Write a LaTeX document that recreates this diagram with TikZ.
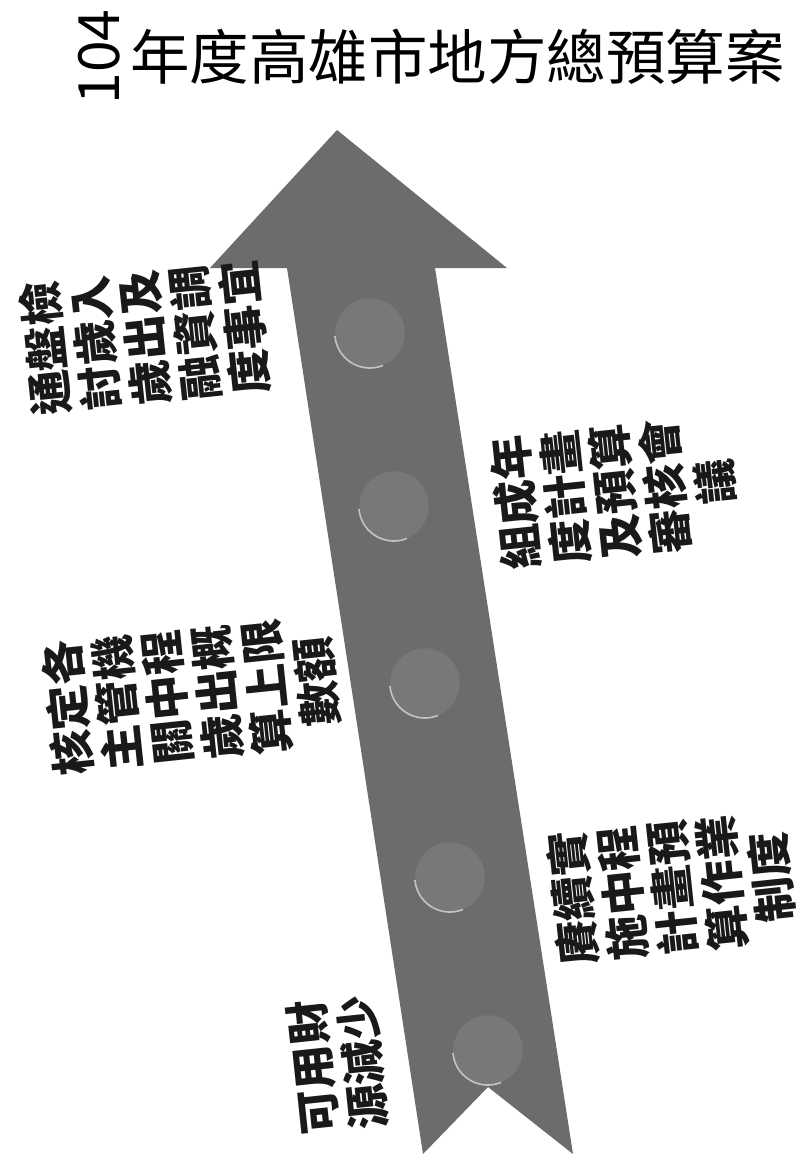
\documentclass[tikz,border=0pt]{standalone}
\usepackage{fontspec}
\newfontfamily\cjk{Noto Sans CJK TC}
\definecolor{arrowgray}{RGB}{108,108,108}
\definecolor{knobgray}{RGB}{120,120,120}
\definecolor{rimgray}{RGB}{196,196,196}

\begin{document}
\begin{tikzpicture}[x=1pt,y=-1pt]
    \useasboundingbox[fill=white] (0,0) rectangle (805,1154);
    \fill[arrowgray] (337,130) -- (507,268) -- (435,268) -- (573,1154) -- (488,1087)
        -- (423,1154) -- (287,268) -- (210,268) -- cycle;
    \begin{scope}[every node/.style={circle,fill=knobgray,draw=knobgray!92!black,thin,minimum size=70pt,inner sep=0pt}]
        \node (k1) at (370,333) {};
        \node (k2) at (394,506) {};
        \node (k3) at (425,683) {};
        \node (k4) at (450,877) {};
        \node (k5) at (488,1050) {};
    \end{scope}
    \foreach \k in {1,...,5}
        \draw[rimgray, line width=1.6pt] (k\k.185) arc[start angle=185, end angle=292, radius=35pt];
    \begin{scope}[every node/.style={rotate=96,align=center,text=black!90,font=\cjk\bfseries\fontsize{45}{50}\selectfont}]
        \node (fund) at (338,1065) {可用財\\源減少};
        \node (plan) at (672,888) {賡續實\\施中程\\計畫預\\算作業\\制度};
        \node (limit) at (192,695) {核定各\\主管機\\關中程\\歲出概\\算上限\\數額};
        \node (meet) at (615,492) {組成年\\度計畫\\及預算\\審核會\\議};
        \node (review) at (145,338) {通盤檢\\討歲入\\歲出及\\融資調\\度事宜};
    \end{scope}
    \node[rotate=90,font=\cjk\fontsize{57}{60}\selectfont] (yr) at (99,57) {104};
    \node[anchor=west,inner sep=0pt,font=\cjk\fontsize{59.5}{62}\selectfont] (title) at (130,57) {年度高雄市地方總預算案};
\end{tikzpicture}
\end{document}
